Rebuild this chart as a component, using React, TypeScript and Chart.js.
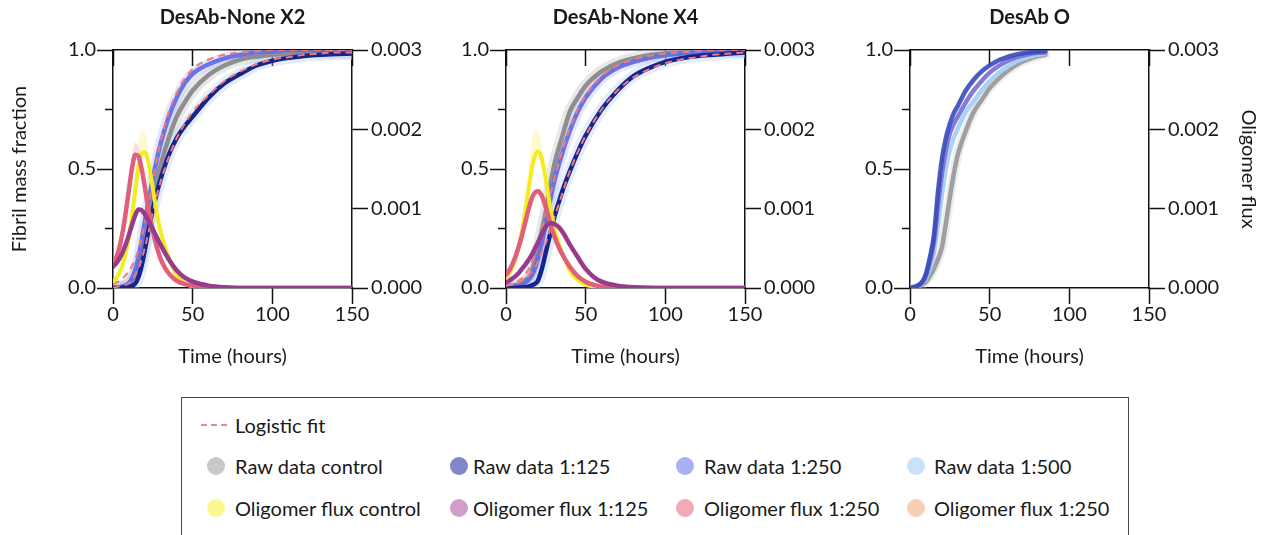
import React, { useEffect, useRef } from 'react';
import { Chart, registerables } from 'chart.js';

Chart.register(...registerables);

// ---------------- DATA ----------------
const PANEL_TITLES = ['DesAb-None X2', 'DesAb-None X4', 'DesAb O'];
const X_TICK_MIN = 0;
const X_TICK_MAX = 150;
const X_STEP = 50;
const Y_LEFT_MAX = 1;
const Y_RIGHT_MAX = 0.003;
const Y_RIGHT_STEP = 0.001;

const FLUX_T = [0, 2, 4, 6, 8, 10, 12, 14, 16, 18, 20, 22, 24, 26, 28, 30, 33, 36, 40, 45, 50, 55, 60, 70, 80, 100, 120, 150];
const RAW_T = [0, 5, 10, 12.5, 15, 17.5, 20, 22.5, 25, 27.5, 30, 35, 40, 45, 50, 60, 70, 80, 90, 100, 110, 120, 130, 140, 150];
const P3_T = [0, 5, 8, 10, 12.5, 15, 17.5, 20, 22.5, 25, 27.5, 30, 35, 40, 45, 50, 55, 60, 65, 70, 75, 80, 85];

// Panel 1 (DesAb-None X2)
const P1_FLUX_CONTROL = [0.00008, 0.00012, 0.00019, 0.00029, 0.00044, 0.00064, 0.00092, 0.00124, 0.00153, 0.00169, 0.00171, 0.0016, 0.00138, 0.00113, 0.00089, 0.0007, 0.0005, 0.00033, 0.00016, 0.00006, 0.00002, 0.00001, 0, 0, 0, 0, 0, 0];
const P1_FLUX_CONTROL_HI = [0.0001, 0.00014, 0.00022, 0.00034, 0.0005, 0.00074, 0.00106, 0.00144, 0.0018, 0.002, 0.00196, 0.00178, 0.0015, 0.0012, 0.00094, 0.00073, 0.00052, 0.00034, 0.00017, 0.00006, 0.00002, 0.00001, 0, 0, 0, 0, 0, 0];
const P1_FLUX_125 = [0.00027, 0.00031, 0.00037, 0.00045, 0.00055, 0.00067, 0.0008, 0.00092, 0.00099, 0.00098, 0.00093, 0.00086, 0.00078, 0.0007, 0.00062, 0.00054, 0.00043, 0.00033, 0.00022, 0.00013, 0.00008, 0.00005, 0.00003, 0.00001, 0, 0, 0, 0];
const P1_FLUX_250 = [0.00028, 0.00038, 0.00051, 0.0007, 0.00095, 0.00124, 0.00152, 0.00168, 0.00166, 0.0015, 0.00127, 0.00102, 0.00081, 0.00063, 0.00048, 0.00036, 0.00024, 0.00016, 0.00009, 0.00005, 0.00003, 0.00002, 0.00001, 0, 0, 0, 0, 0];
const P1_FLUX_250_HI = [0.0003, 0.00041, 0.00056, 0.00077, 0.00105, 0.00138, 0.00168, 0.00183, 0.00178, 0.0016, 0.00135, 0.00108, 0.00085, 0.00066, 0.0005, 0.00037, 0.00025, 0.00016, 0.00009, 0.00005, 0.00003, 0.00002, 0.00001, 0, 0, 0, 0, 0];
const P1_RAW_CONTROL = [0, 0.005, 0.02, 0.04, 0.07, 0.12, 0.19, 0.28, 0.37, 0.45, 0.52, 0.63, 0.72, 0.78, 0.83, 0.895, 0.935, 0.96, 0.972, 0.98, 0.985, 0.99, 0.99, 0.99, 0.985];
const P1_RAW_125 = [0, 0, 0.005, 0.01, 0.03, 0.08, 0.16, 0.25, 0.33, 0.4, 0.46, 0.56, 0.63, 0.68, 0.72, 0.8, 0.86, 0.9, 0.935, 0.955, 0.967, 0.975, 0.98, 0.983, 0.985];
const P1_RAW_250 = [0, 0.005, 0.02, 0.05, 0.1, 0.18, 0.28, 0.37, 0.46, 0.54, 0.61, 0.72, 0.8, 0.86, 0.9, 0.94, 0.965, 0.98, 0.99, 0.995, 1, 1, 1, 1, 1];
const P1_FIT_125 = [0, 0.01, 0.02, 0.04, 0.07, 0.11, 0.17, 0.24, 0.32, 0.39, 0.45, 0.55, 0.63, 0.69, 0.74, 0.81, 0.87, 0.91, 0.94, 0.96, 0.97, 0.98, 0.985, 0.99, 0.99];
const P1_FIT_250 = [0.015, 0.035, 0.07, 0.1, 0.14, 0.2, 0.27, 0.36, 0.45, 0.54, 0.62, 0.74, 0.82, 0.88, 0.92, 0.96, 0.98, 0.99, 0.995, 1, 1, 1, 1, 1, 1];

// Panel 2 (DesAb-None X4)
const P2_FLUX_CONTROL = [0.00013, 0.00018, 0.00026, 0.00037, 0.00053, 0.00072, 0.00096, 0.00122, 0.00148, 0.00166, 0.00172, 0.00166, 0.00148, 0.00124, 0.00099, 0.00079, 0.00057, 0.00041, 0.00022, 0.0001, 0.00004, 0.00002, 0.00001, 0, 0, 0, 0, 0];
const P2_FLUX_CONTROL_HI = [0.00015, 0.00021, 0.0003, 0.00043, 0.00062, 0.00085, 0.00114, 0.00148, 0.00182, 0.002, 0.00198, 0.00185, 0.0016, 0.00132, 0.00104, 0.00082, 0.00059, 0.00042, 0.00023, 0.0001, 0.00004, 0.00002, 0.00001, 0, 0, 0, 0, 0];
const P2_FLUX_125 = [0.00007, 0.00009, 0.00012, 0.00015, 0.00019, 0.00024, 0.00029, 0.00035, 0.00041, 0.00049, 0.00057, 0.00066, 0.00074, 0.0008, 0.00082, 0.00081, 0.00077, 0.00069, 0.00055, 0.00039, 0.00024, 0.00014, 0.00008, 0.00003, 0.00001, 0, 0, 0];
const P2_FLUX_250 = [0.00017, 0.00022, 0.0003, 0.0004, 0.00052, 0.00066, 0.00082, 0.00098, 0.00112, 0.0012, 0.00122, 0.00118, 0.00108, 0.00095, 0.0008, 0.00067, 0.00052, 0.0004, 0.00027, 0.00015, 0.00008, 0.00004, 0.00002, 0.00001, 0, 0, 0, 0];
const P2_RAW_CONTROL = [0, 0.01, 0.02, 0.035, 0.05, 0.1, 0.16, 0.24, 0.32, 0.42, 0.51, 0.63, 0.74, 0.8, 0.85, 0.91, 0.945, 0.965, 0.978, 0.985, 0.99, 0.993, 0.995, 0.995, 0.99];
const P2_RAW_125 = [0, 0, 0.002, 0.004, 0.008, 0.015, 0.03, 0.08, 0.15, 0.22, 0.29, 0.4, 0.49, 0.57, 0.64, 0.75, 0.83, 0.89, 0.925, 0.95, 0.965, 0.975, 0.98, 0.985, 0.99];
const P2_RAW_250 = [0, 0.005, 0.015, 0.025, 0.04, 0.07, 0.12, 0.19, 0.27, 0.36, 0.44, 0.56, 0.66, 0.74, 0.8, 0.88, 0.925, 0.95, 0.967, 0.978, 0.985, 0.99, 0.993, 0.995, 0.995];
const P2_FIT_125 = [0.01, 0.015, 0.03, 0.04, 0.06, 0.08, 0.11, 0.15, 0.19, 0.24, 0.29, 0.39, 0.49, 0.57, 0.64, 0.75, 0.83, 0.885, 0.92, 0.945, 0.96, 0.97, 0.98, 0.985, 0.99];
const P2_FIT_250 = [0.01, 0.02, 0.04, 0.06, 0.09, 0.13, 0.18, 0.24, 0.31, 0.38, 0.45, 0.57, 0.67, 0.75, 0.81, 0.89, 0.935, 0.96, 0.975, 0.985, 0.99, 0.995, 1, 1, 1];

// Panel 3 (DesAb O)
const P3_RAW_125 = [0, 0.01, 0.03, 0.06, 0.13, 0.22, 0.4, 0.54, 0.63, 0.69, 0.735, 0.765, 0.83, 0.875, 0.91, 0.935, 0.955, 0.968, 0.978, 0.985, 0.99, 0.993, 0.995];
const P3_RAW_250 = [0, 0.01, 0.025, 0.05, 0.11, 0.19, 0.34, 0.48, 0.58, 0.65, 0.69, 0.72, 0.78, 0.83, 0.87, 0.905, 0.93, 0.95, 0.965, 0.975, 0.983, 0.988, 0.99];
const P3_RAW_500 = [0, 0.01, 0.02, 0.04, 0.08, 0.15, 0.26, 0.39, 0.5, 0.58, 0.63, 0.67, 0.74, 0.785, 0.83, 0.87, 0.9, 0.925, 0.945, 0.96, 0.972, 0.98, 0.985];
const P3_RAW_CONTROL = [0, 0.005, 0.015, 0.025, 0.05, 0.08, 0.12, 0.17, 0.27, 0.38, 0.48, 0.56, 0.66, 0.74, 0.79, 0.84, 0.875, 0.905, 0.93, 0.95, 0.963, 0.973, 0.98];

// Legend
const LEGEND_FIT_LABEL = 'Logistic fit';
const LEGEND_RAW_LABELS = ['Raw data control', 'Raw data 1:125', 'Raw data 1:250', 'Raw data 1:500'];
const LEGEND_RAW_COLORS = ['#c8c8c8', '#7f87c6', '#aab0f6', '#c9e2f8'];
const LEGEND_FLUX_LABELS = ['Oligomer flux control', 'Oligomer flux 1:125', 'Oligomer flux 1:250', 'Oligomer flux 1:250'];
const LEGEND_FLUX_COLORS = ['#fbf98e', '#d29ec9', '#f4a9b6', '#f9cfb4'];

// ---------------- STYLE ----------------
const FONT = 'Lato, "Open Sans", sans-serif';
const TEXT = '#1a1a1a';
const AXIS = '#111111';
const FIT_COLOR = '#ee7b7b';
const C_YELLOW = '#f3ec1f';
const C_PINK = '#e0607c';
const C_PURPLE = '#973b8c';
const C_GRAY = '#8e8e8e';
const C_NAVY = '#17238f';
const C_BLUE = 'rgba(96,106,232,0.92)';

const W = 465;
const H = 380;

const pts = (t: number[], v: number[]) => t.map((x, i) => ({ x, y: v[i] }));

function line(t: number[], v: number[], color: string, width: number, axis: string, extra: any = {}) {
  return {
    data: pts(t, v),
    borderColor: color,
    backgroundColor: color,
    borderWidth: width,
    pointRadius: 0,
    fill: false,
    xAxisID: 'x',
    yAxisID: axis,
    cubicInterpolationMode: 'monotone',
    borderCapStyle: 'round',
    borderJoinStyle: 'round',
    ...extra,
  };
}

function band(t: number[], v: number[], color: string, target: number) {
  return line(t, v, 'rgba(0,0,0,0)', 0, 'y2', { fill: { target }, backgroundColor: color });
}

function fluxPanelDatasets(
  fc: number[], fcHi: number[], f125: number[], f250: number[], f250Hi: number[] | null,
  rc: number[], r125: number[], r250: number[], fit125: number[], fit250: number[]
) {
  const ds: any[] = [
    line(FLUX_T, f125, C_PURPLE, 4.5, 'y2'),
    line(FLUX_T, f250, C_PINK, 4.5, 'y2'),
    line(FLUX_T, fc, C_YELLOW, 4, 'y2'),
    line(RAW_T, fit250, FIT_COLOR, 2, 'y', { borderDash: [7, 5], borderCapStyle: 'butt' }),
    line(RAW_T, fit125, FIT_COLOR, 2, 'y', { borderDash: [7, 5], borderCapStyle: 'butt' }),
    line(RAW_T, r125, C_NAVY, 4.5, 'y'),
    line(RAW_T, r250, C_BLUE, 4.5, 'y'),
    line(RAW_T, rc, C_GRAY, 4.5, 'y'),
    line(RAW_T, r125, 'rgba(170,205,240,0.35)', 12, 'y'),
    line(RAW_T, r250, 'rgba(170,175,245,0.3)', 11, 'y'),
    line(RAW_T, rc, 'rgba(190,190,190,0.35)', 12, 'y'),
  ];
  if (f250Hi) ds.push(band(FLUX_T, f250Hi, 'rgba(240,160,175,0.35)', 1));
  ds.push(band(FLUX_T, fcHi, 'rgba(250,245,150,0.45)', 2));
  return ds;
}

const PANEL_DATASETS = [
  fluxPanelDatasets(P1_FLUX_CONTROL, P1_FLUX_CONTROL_HI, P1_FLUX_125, P1_FLUX_250, P1_FLUX_250_HI,
    P1_RAW_CONTROL, P1_RAW_125, P1_RAW_250, P1_FIT_125, P1_FIT_250),
  fluxPanelDatasets(P2_FLUX_CONTROL, P2_FLUX_CONTROL_HI, P2_FLUX_125, P2_FLUX_250, null,
    P2_RAW_CONTROL, P2_RAW_125, P2_RAW_250, P2_FIT_125, P2_FIT_250),
  [
    line(P3_T, P3_RAW_125, 'rgba(55,75,185,0.9)', 4.5, 'y'),
    line(P3_T, P3_RAW_250, 'rgba(122,106,214,0.9)', 4.5, 'y'),
    line(P3_T, P3_RAW_500, 'rgba(165,207,245,0.95)', 4.5, 'y'),
    line(P3_T, P3_RAW_CONTROL, 'rgba(155,155,155,0.95)', 4.5, 'y'),
    line(P3_T, P3_RAW_CONTROL, 'rgba(200,200,200,0.35)', 9, 'y'),
  ],
];

const PANEL_LEFTS = [0, 393, 797];

function makeOptions(title: string, showLeftTitle: boolean, showRightTitle: boolean): any {
  const tickFont = { family: FONT, size: 20 };
  return {
    animation: false,
    responsive: false,
    devicePixelRatio: 1,
    layout: { padding: 0 },
    plugins: {
      legend: { display: false },
      tooltip: { enabled: false },
      title: {
        display: true,
        text: title,
        color: TEXT,
        font: { family: FONT, size: 20, weight: 'bold', lineHeight: 1.2 },
        padding: { top: 6, bottom: 20 },
      },
    },
    scales: {
      x: {
        type: 'linear',
        position: 'bottom',
        min: X_TICK_MIN,
        max: X_TICK_MAX,
        afterFit: (s: any) => { s.height = 92; },
        ticks: { stepSize: X_STEP, padding: 0, color: TEXT, font: { ...tickFont, lineHeight: 1.1 }, maxRotation: 0, autoSkip: false },
        grid: { drawOnChartArea: false, tickLength: 16, tickWidth: 1.5, tickColor: AXIS, color: AXIS },
        border: { display: true, color: AXIS, width: 1.5 },
        title: { display: true, text: 'Time (hours)', color: TEXT, font: { family: FONT, size: 20, lineHeight: 1.2 }, padding: { top: 0, bottom: 11 } },
      },
      xTop: {
        type: 'linear',
        position: 'top',
        min: X_TICK_MIN,
        max: X_TICK_MAX,
        afterFit: (s: any) => { s.height = 0; },
        ticks: { display: false, stepSize: X_STEP },
        grid: { drawOnChartArea: false, tickLength: -16, tickWidth: 1.5, tickColor: AXIS, color: AXIS },
        border: { display: true, color: AXIS, width: 1.5 },
      },
      y: {
        type: 'linear',
        position: 'left',
        min: 0,
        max: Y_LEFT_MAX,
        afterFit: (s: any) => { s.width = 113; },
        ticks: {
          stepSize: 0.25,
          padding: 1,
          color: TEXT,
          font: tickFont,
          callback: (v: any) => (v === 0 || v === 0.5 || v === 1 ? Number(v).toFixed(1) : ''),
        },
        grid: {
          drawOnChartArea: false,
          tickLength: 16,
          tickWidth: 1.5,
          tickColor: AXIS,
          color: AXIS,
          tickBorderDash: (ctx: any) => (ctx.tick && (ctx.tick.value === 0.25 || ctx.tick.value === 0.75) ? [0, 8, 8, 0] : []),
        },
        border: { display: true, color: AXIS, width: 1.5 },
        title: { display: showLeftTitle, text: 'Fibril mass fraction', color: TEXT, font: { family: FONT, size: 20, lineHeight: 1.2 }, padding: { top: 8, bottom: 0 } },
      },
      y2: {
        type: 'linear',
        position: 'right',
        min: 0,
        max: Y_RIGHT_MAX,
        afterFit: (s: any) => { s.width = 113; },
        ticks: { stepSize: Y_RIGHT_STEP, padding: 3, color: TEXT, font: tickFont, callback: (v: any) => Number(v).toFixed(3) },
        grid: { drawOnChartArea: false, tickLength: 16, tickWidth: 1.5, tickColor: AXIS, color: AXIS },
        border: { display: true, color: AXIS, width: 1.5 },
        title: { display: showRightTitle, text: 'Oligomer flux', color: TEXT, font: { family: FONT, size: 20, lineHeight: 1.2 }, padding: { top: 1.5, bottom: 0 } },
      },
    },
  };
}

function Panel({ index }: { index: number }) {
  const ref = useRef<HTMLCanvasElement>(null);
  useEffect(() => {
    const chart = new Chart(ref.current as HTMLCanvasElement, {
      type: 'line',
      data: { datasets: PANEL_DATASETS[index] },
      options: makeOptions(PANEL_TITLES[index], index === 0, index === 2),
    } as any);
    return () => chart.destroy();
  }, [index]);
  return (
    <canvas
      ref={ref}
      width={W}
      height={H}
      style={{ position: 'absolute', left: PANEL_LEFTS[index], top: 0, width: W, height: H }}
    />
  );
}

const LEG_CIRCLE_X = [216, 459, 685, 916];
const LEG_TEXT_X = [235, 473, 704, 934];
const LEG_ROW_Y = [466, 508];
const LEG_FIT_Y = 425;

function Legend() {
  const textStyle = (x: number, y: number): React.CSSProperties => ({
    position: 'absolute', left: x, top: y - 12, height: 24, lineHeight: '24px',
    fontFamily: FONT, fontSize: 20, color: TEXT, whiteSpace: 'nowrap',
  });
  const circle = (x: number, y: number, c: string): React.CSSProperties => ({
    position: 'absolute', left: x - 9, top: y - 9, width: 18, height: 18, borderRadius: 9, background: c,
  });
  return (
    <>
      <div style={{ position: 'absolute', left: 181, top: 397, width: 948, height: 160, border: '1.5px solid #4a4a4a', boxSizing: 'border-box' }} />
      <svg style={{ position: 'absolute', left: 201, top: LEG_FIT_Y - 2 }} width={29} height={4}>
        <line x1={0} y1={2} x2={29} y2={2} stroke="#f08a8a" strokeWidth={2} strokeDasharray="6 4" />
      </svg>
      <div style={textStyle(235, LEG_FIT_Y)}>{LEGEND_FIT_LABEL}</div>
      {LEGEND_RAW_LABELS.map((l, i) => (
        <React.Fragment key={'r' + i}>
          <div style={circle(LEG_CIRCLE_X[i], LEG_ROW_Y[0], LEGEND_RAW_COLORS[i])} />
          <div style={textStyle(LEG_TEXT_X[i], LEG_ROW_Y[0])}>{l}</div>
        </React.Fragment>
      ))}
      {LEGEND_FLUX_LABELS.map((l, i) => (
        <React.Fragment key={'f' + i}>
          <div style={circle(LEG_CIRCLE_X[i], LEG_ROW_Y[1], LEGEND_FLUX_COLORS[i])} />
          <div style={textStyle(LEG_TEXT_X[i], LEG_ROW_Y[1])}>{l}</div>
        </React.Fragment>
      ))}
    </>
  );
}

export default function App() {
  return (
    <div style={{ position: 'fixed', left: 0, top: 0, width: 1271, height: 535, overflow: 'hidden', background: '#fff' }}>
      <Panel index={0} />
      <Panel index={1} />
      <Panel index={2} />
      <Legend />
    </div>
  );
}
